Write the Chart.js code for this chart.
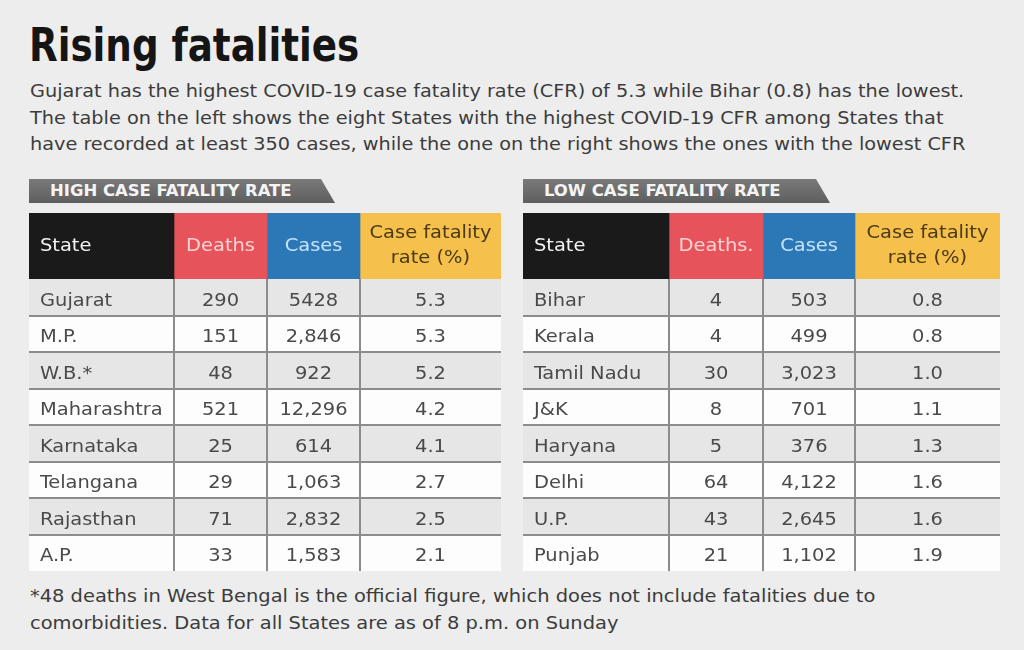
<!DOCTYPE html>
<html>
<head>
<meta charset="utf-8">
<script src="https://cdn.jsdelivr.net/npm/chart.js@4.4.1/dist/chart.umd.min.js"></script>
<style>
  html, body { margin: 0; padding: 0; }
  body {
    width: 1024px; height: 650px; position: relative; overflow: hidden;
    background: #ededed; color: #3a3a3a;
    font-family: 'Liberation Sans Narrow', 'DejaVu Sans Condensed', Roboto, sans-serif;
  }
  .title {
    position: absolute; left: 29px; top: 18px; margin: 0;
    font: 700 46px 'Liberation Sans Narrow', 'DejaVu Sans Condensed', Roboto, sans-serif;
    color: #151515; white-space: nowrap;
    transform: scaleX(0.9); transform-origin: 0 0;
  }
  .lede, .note {
    position: absolute; left: 30px; margin: 0; font-size: 18px; line-height: 26.5px;
    color: #3c3c3c; white-space: nowrap;
    transform: scaleX(1.19); transform-origin: 0 0;
  }
  .lede { top: 78px; }
  .note { top: 583px; transform: scaleX(1.2); }
  .banner {
    position: absolute; top: 179px; height: 24px; line-height: 24px;
    background: linear-gradient(#7a7a7a, #5e5e5e);
    color: #f4f4f4; font-weight: 700; font-size: 15px;
    padding-left: 21px; box-sizing: border-box; white-space: nowrap;
    clip-path: polygon(0 0, calc(100% - 14px) 0, 100% 100%, 0 100%);
  }
  .banner span { display: inline-block; transform: scaleX(1.22); transform-origin: 0 0; }
  canvas { position: absolute; }
</style>
</head>
<body>
<h1 class="title">Rising fatalities</h1>
<p class="lede">Gujarat has the highest COVID-19 case fatality rate (CFR) of 5.3 while Bihar (0.8) has the lowest.<br>The table on the left shows the eight States with the highest COVID-19 CFR among States that<br>have recorded at least 350 cases, while the one on the right shows the ones with the lowest CFR</p>
<div class="banner" style="left:29px;width:306px"><span>HIGH CASE FATALITY RATE</span></div>
<div class="banner" style="left:523px;width:307px"><span>LOW CASE FATALITY RATE</span></div>

<canvas id="highHead" width="472" height="66" style="left:29px;top:213px"></canvas>
<canvas id="highBody" width="472" height="292" style="left:29px;top:279px"></canvas>
<canvas id="lowHead" width="477" height="66" style="left:523px;top:213px"></canvas>
<canvas id="lowBody" width="477" height="292" style="left:523px;top:279px"></canvas>

<p class="note">*48 deaths in West Bengal is the official figure, which does not include fatalities due to<br>comorbidities. Data for all States are as of 8 p.m. on Sunday</p>

<script>
// table data
const highHeaders = ['State', 'Deaths', 'Cases', 'Case fatality\nrate (%)'];
const highStates = ['Gujarat', 'M.P.', 'W.B.*', 'Maharashtra', 'Karnataka', 'Telangana', 'Rajasthan', 'A.P.'];
const highDeaths = [290, 151, 48, 521, 25, 29, 71, 33];
const highCases = ['5428', '2,846', '922', '12,296', '614', '1,063', '2,832', '1,583'];
const highCfr = [5.3, 5.3, 5.2, 4.2, 4.1, 2.7, 2.5, 2.1];

const lowHeaders = ['State', 'Deaths.', 'Cases', 'Case fatality\nrate (%)'];
const lowStates = ['Bihar', 'Kerala', 'Tamil Nadu', 'J&K', 'Haryana', 'Delhi', 'U.P.', 'Punjab'];
const lowDeaths = [4, 4, 30, 8, 5, 64, 43, 21];
const lowCases = ['503', '499', '3,023', '701', '376', '4,122', '2,645', '1,102'];
const lowCfr = [0.8, 0.8, 1.0, 1.1, 1.3, 1.6, 1.6, 1.9];

// layout: column edges in px along each table
const HIGH_EDGES = [0, 145, 238, 331, 472];
const LOW_EDGES = [0, 146, 240, 332, 477];

const HEAD_FILLS = ['#1b1a1b', '#e6535b', '#2c77b6', '#f6c04c'];
const HEAD_INK = ['#f2f2f2', '#fbd3d4', '#c6e4fb', '#4b3a14'];
const ROW_FILLS = ['#e6e6e6', '#fdfdfd'];
const RULE = '#8c8c8c';
const FONT = "'Liberation Sans Narrow', 'DejaVu Sans Condensed', Roboto, sans-serif";
const STRETCH = 1.2; // the printed type runs wider than any installed face

const cellText = {
  id: 'cellText',
  afterDatasetsDraw(chart) {
    const { ctx } = chart;
    const shift = chart.options.plugins.cellText.shift;
    ctx.save();
    ctx.textBaseline = 'middle';
    ctx.font = `18px ${FONT}`;
    chart.data.datasets.forEach((ds, col) => {
      chart.getDatasetMeta(col).data.forEach((bar, row) => {
        const left = Math.min(bar.x, bar.base);
        const right = Math.max(bar.x, bar.base);
        const lines = String(ds.texts[row]).split('\n');
        ctx.fillStyle = ds.ink[row];
        ctx.textAlign = col === 0 ? 'left' : 'center';
        const tx = col === 0 ? left + 11 : (left + right) / 2;
        lines.forEach((line, i) => {
          ctx.save();
          ctx.translate(tx, bar.y + shift + (i - (lines.length - 1) / 2) * 25);
          ctx.scale(STRETCH, 1);
          ctx.fillText(line, 0, 0);
          ctx.restore();
        });
      });
    });
    ctx.restore();
  },
};

const bodyRules = {
  id: 'bodyRules',
  afterDatasetsDraw(chart) {
    if (!chart.options.plugins.bodyRules.on) return;
    const { ctx, chartArea } = chart;
    const first = chart.getDatasetMeta(0).data;
    ctx.save();
    ctx.strokeStyle = RULE;
    ctx.lineWidth = 2;
    first.slice(0, -1).forEach((bar) => {
      const y = Math.round(bar.y + bar.height / 2);
      ctx.beginPath();
      ctx.moveTo(chartArea.left, y);
      ctx.lineTo(chartArea.right, y);
      ctx.stroke();
    });
    chart.data.datasets.slice(1).forEach((ds, i) => {
      const bar = chart.getDatasetMeta(i + 1).data[0];
      const x = Math.round(Math.min(bar.x, bar.base));
      ctx.beginPath();
      ctx.moveTo(x, chartArea.top);
      ctx.lineTo(x, chartArea.bottom);
      ctx.stroke();
    });
    ctx.restore();
  },
};

function makeTable(canvas, edges, labels, columns, fills, inks, ruled) {
  const datasets = columns.map((texts, col) => ({
    data: labels.map(() => [edges[col], edges[col + 1]]),
    texts,
    ink: labels.map(() => inks(col)),
    backgroundColor: labels.map((_, row) => fills(col, row)),
    borderWidth: 0,
    borderSkipped: false,
    barPercentage: 1,
    categoryPercentage: 1,
    grouped: false,
  }));

  return new Chart(canvas, {
    type: 'bar',
    data: { labels, datasets },
    options: {
      indexAxis: 'y',
      responsive: false,
      animation: false,
      events: [],
      layout: { padding: 0 },
      scales: {
        x: { type: 'linear', min: edges[0], max: edges[edges.length - 1], display: false },
        y: { type: 'category', display: false },
      },
      plugins: {
        legend: { display: false },
        tooltip: { enabled: false },
        bodyRules: { on: ruled },
        cellText: { shift: ruled ? 4 : 0 },
      },
    },
    plugins: [cellText, bodyRules],
  });
}

function buildSide(prefix, edges, headers, states, deaths, cases, cfr) {
  makeTable(
    document.getElementById(prefix + 'Head'), edges, ['head'],
    headers.map((h) => [h]),
    (col) => HEAD_FILLS[col],
    (col) => HEAD_INK[col],
    false,
  );
  makeTable(
    document.getElementById(prefix + 'Body'), edges, states,
    [states, deaths, cases, cfr.map((v) => v.toFixed(1))],
    (col, row) => ROW_FILLS[row % 2],
    () => '#4a4a4a',
    true,
  );
}

buildSide('high', HIGH_EDGES, highHeaders, highStates, highDeaths, highCases, highCfr);
buildSide('low', LOW_EDGES, lowHeaders, lowStates, lowDeaths, lowCases, lowCfr);
</script>
</body>
</html>
